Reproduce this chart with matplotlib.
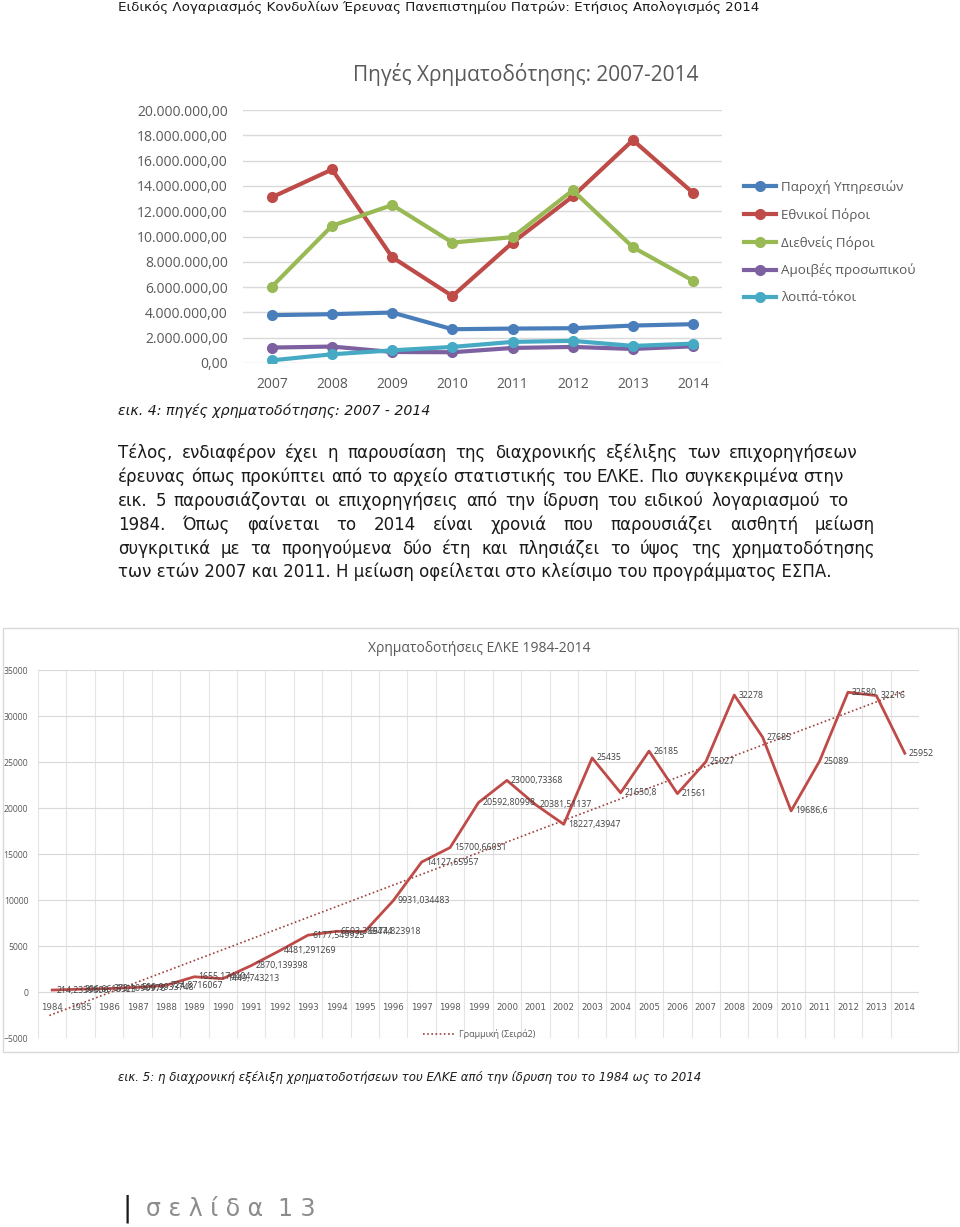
import matplotlib
matplotlib.use("Agg")
import matplotlib.pyplot as plt
from matplotlib.ticker import FuncFormatter
from matplotlib.lines import Line2D
import numpy as np

# DATA ------------------------------------------------------
years1 = ["2007", "2008", "2009", "2010", "2011", "2012", "2013", "2014"]
parohi = [3.78e6, 3.86e6, 3.99e6, 2.67e6, 2.72e6, 2.75e6, 2.96e6, 3.07e6]
ethnikoi = [13.10e6, 15.30e6, 8.36e6, 5.29e6, 9.52e6, 13.17e6, 17.62e6, 13.44e6]
diethneis = [6.03e6, 10.85e6, 12.49e6, 9.52e6, 9.95e6, 13.65e6, 9.15e6, 6.51e6]
amoives = [1.22e6, 1.30e6, 0.87e6, 0.85e6, 1.19e6, 1.27e6, 1.11e6, 1.32e6]
loipa = [0.21e6, 0.69e6, 1.00e6, 1.27e6, 1.67e6, 1.75e6, 1.35e6, 1.53e6]
series_names = ["Παροχή Υπηρεσιών", "Εθνικοί Πόροι", "Διεθνείς Πόροι",
                "Αμοιβές προσωπικού", "λοιπά-τόκοι"]

years2 = [str(y) for y in range(1984, 2015)]
funding = [214.2339806, 306.6613323, 373.1090978, 509.9933748, 724.8716067,
           1655.174404, 1449.743213, 2870.139398, 4481.291269, 6177.549925,
           6593.389474, 6574.823918, 9931.034483, 14127.65957, 15700.66031,
           20592.80998, 23000.73368, 20381.51137, 18227.43947, 25435,
           21650.8, 26185, 21561, 25027, 32278,
           27685, 19686.6, 25089, 32580, 32216, 25952]

header = ("Ειδικός Λογαριασμός Κονδυλίων Έρευνας Πανεπιστημίου Πατρών: "
          "Ετήσιος Απολογισμός 2014")
paragraph = [
    "Τέλος, ενδιαφέρον έχει η παρουσίαση της διαχρονικής εξέλιξης των επιχορηγήσεων",
    "έρευνας όπως προκύπτει από το αρχείο στατιστικής του ΕΛΚΕ. Πιο συγκεκριμένα στην",
    "εικ. 5 παρουσιάζονται οι επιχορηγήσεις από την ίδρυση του ειδικού λογαριασμού το",
    "1984. Όπως φαίνεται το 2014 είναι χρονιά που παρουσιάζει αισθητή μείωση",
    "συγκριτικά με τα προηγούμενα δύο έτη και πλησιάζει το ύψος της χρηματοδότησης",
    "των ετών 2007 και 2011. Η μείωση οφείλεται στο κλείσιμο του προγράμματος ΕΣΠΑ.",
]

W, H = 960, 1227


def fx(px):
    return px / W


def fy(py):
    return 1 - py / H


fig = plt.figure(figsize=(9.6, 12.27), dpi=100)
fig.patch.set_facecolor("white")
chart_font = "Open Sans"
body_font = "DejaVu Sans"

# header ------------------------------------------------------
fig.text(fx(118), fy(8), header, fontsize=9.7, family=body_font,
         color="#1a1a1a", va="center", ha="left")

# Chart 1: line chart 2007-2014
# ----------------------------------------------------------------------------------------------------------------------
colors1 = ["#4a7ebb", "#be4b48", "#98b954", "#7d60a0", "#46aac5"]
ax1 = fig.add_axes([fx(243), fy(363), fx(722) - fx(243), fy(110) - fy(363)])
x1 = np.arange(len(years1))
for vals, name, c in zip([parohi, ethnikoi, diethneis, amoives, loipa],
                         series_names, colors1):
    ax1.plot(x1, vals, color=c, lw=3, marker="o", ms=7, label=name)
ax1.set_xlim(-0.48, 7.48)
ax1.set_ylim(0, 20e6)
ax1.set_yticks(np.arange(0, 20e6 + 1, 2e6))
ax1.yaxis.set_major_formatter(FuncFormatter(
    lambda v, p: f"{v:,.2f}".replace(",", "X").replace(".", ",").replace("X", ".")))
ax1.set_xticks(x1)
ax1.set_xticklabels(years1)
ax1.tick_params(length=0, labelsize=10, labelcolor="#595959")
ax1.tick_params(axis="y", pad=11)
ax1.tick_params(axis="x", pad=10)
for lab in ax1.get_xticklabels() + ax1.get_yticklabels():
    lab.set_family(chart_font)
for s in ax1.spines.values():
    s.set_visible(False)
ax1.grid(axis="y", color="#d9d9d9", lw=1)
ax1.set_axisbelow(True)
fig.text(fx(526), fy(75), "Πηγές Χρηματοδότησης: 2007-2014", fontsize=15,
         family=chart_font, color="#595959", ha="center", va="center")
leg = ax1.legend(loc="upper left", bbox_to_anchor=(fx(744), fy(180)),
                 bbox_transform=fig.transFigure, frameon=False,
                 prop={"family": chart_font, "size": 9.6}, labelcolor="#595959",
                 handlelength=2.4, handletextpad=0.35, labelspacing=1.05,
                 borderpad=0, borderaxespad=0)

fig.text(fx(118), fy(411), "εικ. 4: πηγές χρηματοδότησης: 2007 - 2014",
         fontsize=10.2, family=body_font, style="italic", color="#1a1a1a",
         va="center", ha="left")

# paragraph (justified to the reference line ends) ---------------------------
renderer = fig.canvas.get_renderer()
line_y = [453, 477, 501, 525, 549, 572]
line_end = [858, 843, 848, 875, 875, None]
for line, yy, xe in zip(paragraph, line_y, line_end):
    if xe is None:
        fig.text(fx(118), fy(yy), line, fontsize=12, family=body_font,
                 color="#1a1a1a", va="center", ha="left")
        continue
    words = line.split(" ")
    texts = [fig.text(0, fy(yy), w, fontsize=12, family=body_font,
                      color="#1a1a1a", va="center", ha="left") for w in words]
    widths = [t.get_window_extent(renderer).width for t in texts]
    space = fig.text(0, 0, "a a", fontsize=12, family=body_font).get_window_extent(renderer).width \
        - 2 * fig.text(0, 0, "a", fontsize=12, family=body_font).get_window_extent(renderer).width
    for t in fig.texts[-2:]:
        t.remove()
    gap = max(space, (xe - 118 - sum(widths)) / (len(words) - 1))
    xpos = 118
    for t, wd in zip(texts, widths):
        t.set_x(fx(xpos))
        xpos += wd + gap

# Chart 2: funding 1984-2014
# ----------------------------------------------------------------------------------------------------------------------
frame = plt.Rectangle((fx(3), fy(1052)), fx(958) - fx(3), fy(628) - fy(1052),
                      transform=fig.transFigure, fill=False, ec="#d9d9d9", lw=1)
fig.add_artist(frame)
fig.text(fx(479), fy(648), "Χρηματοδοτήσεις ΕΛΚΕ 1984-2014", fontsize=10,
         family=chart_font, color="#595959", ha="center", va="center")

ax2 = fig.add_axes([fx(38), fy(1038), fx(919) - fx(38), fy(670) - fy(1038)])
x2 = np.arange(len(years2))
ax2.plot(x2, funding, color="#be4b48", lw=2, zorder=3)
coef = np.polyfit(x2, funding, 1)
xt = np.array([-0.1, 30])
ax2.plot(xt, np.polyval(coef, xt), color="#a0413e", lw=1.2, ls=(0, (1, 1.5)), zorder=2)
for xi, v in zip(x2, funding):
    ax2.annotate(f"{v:.10g}".replace(".", ","), (xi, v), xytext=(3, 0),
                 textcoords="offset points", fontsize=6.3, family=chart_font,
                 color="#404040", va="center", ha="left", zorder=4)
ax2.set_xlim(-0.5, 30.5)
ax2.set_ylim(-5000, 35000)
ax2.set_yticks(np.arange(-5000, 35001, 5000))
ax2.set_xticks(x2)
ax2.set_xticklabels(years2)
ax2.set_xticks(np.arange(-0.5, 31, 1), minor=True)
ax2.tick_params(which="both", length=0, labelsize=6.2, labelcolor="#595959")
ax2.tick_params(axis="y", pad=7)
ax2.tick_params(axis="x", pad=8)
for lab in ax2.get_xticklabels() + ax2.get_yticklabels():
    lab.set_family(chart_font)
for k, s in ax2.spines.items():
    s.set_visible(False)
ax2.spines["bottom"].set_position(("data", 0))
ax2.grid(axis="y", color="#d9d9d9", lw=0.8)
ax2.grid(axis="x", which="minor", color="#e4e4e4", lw=0.8)
ax2.set_axisbelow(True)
ax2.legend([Line2D([], [], color="#a0413e", lw=1.2, ls=(0, (1, 1.5)))],
           ["Γραμμική (Σειρά2)"], loc="center", bbox_to_anchor=(fx(479), fy(1034)),
           bbox_transform=fig.transFigure, frameon=False,
           prop={"family": chart_font, "size": 6.5}, labelcolor="#595959",
           handlelength=3.5, handletextpad=0.5)

fig.text(fx(118), fy(1078),
         "εικ. 5: η διαχρονική εξέλιξη χρηματοδοτήσεων του ΕΛΚΕ από την ίδρυση του το 1984 ως το 2014",
         fontsize=8.5, family=body_font, style="italic", color="#1a1a1a",
         va="center", ha="left")

# footer -----------------------------------------------------------------------
fig.text(fx(122), fy(1209), "|", fontsize=20, family=body_font, color="#1a1a1a",
         va="center", ha="left")
fig.text(fx(146), fy(1209), "σ ε λ ί δ α  1 3", fontsize=17, family=body_font,
         color="#8c8c8c", va="center", ha="left")

fig.savefig("out.png", dpi=100, facecolor="white")
